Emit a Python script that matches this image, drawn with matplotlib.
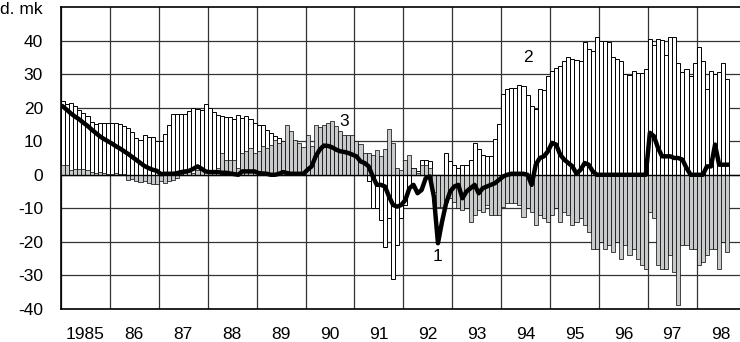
import matplotlib.pyplot as plt
import numpy as np

plt.rcParams['font.family'] = ['Liberation Sans', 'DejaVu Sans']

# monthly data, Jan 1985 - Aug 1998
series2 = [  # white bars
    21.9, 21.2, 21.3, 20.6, 19.4, 18.4, 17.6, 15.8, 15.2, 15.4, 15.4, 15.4,
    15.4, 15.4, 15.0, 14.4, 13.8, 12.8, 11.1, 10.4, 12.0, 11.2, 11.2, 10.1,
    10.0, 12.3, 14.7, 18.0, 18.0, 18.0, 18.0, 19.0, 19.8, 19.5, 19.2, 21.0,
    20.0, 18.8, 17.8, 17.5, 17.3, 17.3, 16.5, 17.8, 17.0, 17.4, 16.6, 15.5,
    14.7, 14.7, 13.4, 12.4, 11.6, 11.0, 8.0, 9.0, 8.0, 7.0, 6.0, 6.0,
    7.0, 6.0, 7.0, 7.0, 7.0, 7.0, 7.0, 6.0, 6.0, 5.0, 5.0, 5.0,
    2.0, 1.0, 0.5, -2.0, -10.0, -10.0, -13.4, -21.4, -13.0, -31.0, -21.0, -13.0,
    -9.0, -4.0, 2.0, 1.0, 4.5, 4.5, 4.0, 0.0, -3.0, -2.0, 6.5, 4.0,
    3.0, 2.0, 3.0, 3.0, 4.5, 9.6, 7.7, 6.0, 5.5, 5.5, 10.6, 15.0,
    24.0, 25.5, 26.0, 25.8, 26.9, 26.4, 23.8, 20.4, 19.6, 25.7, 25.4, 29.3,
    31.0, 31.8, 32.5, 33.8, 35.1, 34.6, 34.2, 33.8, 39.5, 37.5, 36.8, 41.1,
    39.8, 39.8, 39.5, 35.1, 34.6, 33.8, 29.9, 29.6, 30.8, 30.3, 30.3, 31.5,
    40.5, 38.8, 40.5, 40.1, 35.8, 41.0, 41.0, 33.3, 30.5, 31.5, 29.4, 33.3,
    38.0, 33.8, 25.6, 31.0, 30.1, 30.5, 33.3, 28.6,
]
series3 = [  # grey bars
    2.8, 2.8, 1.5, 1.7, 1.7, 1.7, 1.5, 0.8, 0.5, 0.8, 0.5, 0.3,
    0.3, 0.5, 0.3, 0.2, -1.5, -1.2, -2.0, -2.2, -1.8, -2.5, -2.7, -2.6,
    -2.0, -2.4, -1.8, -1.5, -1.0, 0.3, 0.5, 1.0, 0.5, 1.5, 2.0, 1.0,
    0.5, 1.0, 2.0, 6.5, 4.5, 4.5, 4.5, 2.0, 6.5, 7.0, 8.0, 6.5,
    7.0, 8.5, 8.0, 9.0, 10.5, 9.5, 10.0, 14.8, 13.0, 10.4, 9.5, 8.4,
    12.0, 8.5, 14.9, 14.3, 14.9, 15.4, 16.1, 14.5, 13.0, 12.0, 12.0, 12.0,
    10.0, 9.3, 6.5, 6.5, 6.0, 7.5, 5.7, 7.7, 13.6, 9.5, 2.0, 1.5,
    4.5, 5.8, 2.0, 0.5, 3.0, 3.0, 2.0, -5.0, -9.5, -9.5, -8.0, -7.0,
    -8.0, -10.0, -10.5, -10.0, -14.0, -12.0, -10.5, -11.0, -9.0, -12.0, -12.0, -12.0,
    -9.5, -8.5, -8.5, -8.5, -9.0, -12.5, -10.0, -11.0, -15.0, -12.0, -13.0, -14.0,
    -12.0, -10.0, -14.0, -11.0, -12.0, -15.0, -14.0, -13.0, -15.0, -17.0, -22.0, -22.0,
    -20.0, -22.0, -21.0, -23.0, -20.0, -25.0, -21.0, -24.0, -22.0, -25.0, -27.0, -28.0,
    -11.0, -13.0, -27.0, -28.0, -28.0, -24.0, -29.0, -38.9, -21.0, -21.0, -22.0, -22.0,
    -27.0, -26.0, -24.0, -22.0, -22.0, -28.0, -20.0, -23.0,
]
series1 = [  # black line
    20.3, 19.3, 18.2, 17.3, 16.5, 15.5, 14.6, 13.5, 12.5, 11.5, 10.7, 10.0,
    9.3, 8.5, 7.8, 7.0, 6.2, 5.3, 4.4, 3.5, 2.6, 2.0, 1.5, 1.2,
    0.2, 0.3, 0.3, 0.3, 0.5, 0.8, 1.0, 1.2, 1.8, 2.5, 1.8, 1.0,
    0.8, 0.8, 0.8, 0.6, 0.6, 0.4, 0.2, 0.0, 1.0, 1.0, 1.0, 1.0,
    0.5, 0.4, 0.3, 0.0, 0.0, 0.3, 0.8, 0.5, 0.3, 0.3, 0.3, 0.3,
    1.5, 2.5, 5.5, 7.5, 8.7, 8.6, 8.2, 7.5, 7.0, 6.8, 6.5, 6.0,
    5.5, 4.0, 3.5, 2.5, -0.5, -3.0, -3.0, -3.5, -6.5, -9.0, -9.5, -9.0,
    -7.5, -4.0, -3.0, -5.5, -4.5, -1.0, -0.5, -6.5, -20.4, -14.0, -8.5, -5.0,
    -3.5, -3.0, -7.0, -5.0, -4.0, -3.0, -5.5, -4.0, -3.5, -3.0, -2.5, -1.5,
    -0.5, 0.0, 0.3, 0.3, 0.3, 0.3, 0.0, -3.0, 3.0, 5.0, 5.5, 7.0,
    9.5, 9.0, 6.0, 4.5, 3.5, 2.5, 0.3, 1.5, 3.5, 3.0, 1.0, 0.0,
    0.0, 0.0, 0.0, 0.0, 0.0, 0.0, 0.0, 0.0, 0.0, 0.0, 0.0, 0.0,
    12.5, 11.5, 8.0, 5.5, 5.5, 5.5, 5.0, 5.0, 4.5, 2.0, 0.0, 0.0,
    0.0, 0.0, 2.5, 2.5, 9.0, 3.0, 3.0, 3.0,
]
year_labels = ['1985', '86', '87', '88', '89', '90', '91', '92', '93',
               '94', '95', '96', '97', '98']
yticks = [-40, -30, -20, -10, 0, 10, 20, 30, 40]

x = 1985 + (np.arange(len(series1)) + 0.5) / 12

fig = plt.figure(figsize=(7.4, 3.42), dpi=100)
ax = fig.add_axes([61 / 740, 33 / 342, 1 - 61 / 740, 302 / 342])

ax.bar(x, series2, width=1 / 12, color='white', edgecolor='black',
       linewidth=0.7, zorder=2)
ax.bar(x, series3, width=1 / 12, color='#c8cacb', edgecolor='black',
       linewidth=0.5, zorder=3)
ax.plot(x, series1, color='black', linewidth=3.2, solid_joinstyle='round',
        zorder=5)
ax.axhline(0, color='black', linewidth=1.0, zorder=4)

ax.set_xlim(1985, 1998.885)
ax.set_ylim(-40, 50)
ax.set_yticks(yticks)
ax.set_yticklabels([str(v) for v in yticks])
ax.set_xticks(np.arange(1985, 1999))
ax.set_xticklabels([])
ax.set_xticks(np.arange(1985, 1999) + 0.5, minor=True)
ax.set_xticklabels(year_labels, minor=True)
ax.tick_params(axis='both', which='both', length=0, labelsize=12.5)
ax.tick_params(axis='y', pad=13)
ax.tick_params(axis='x', which='minor', pad=13)

ax.grid(True, which='major', color='#333333', linewidth=0.9, zorder=0)
ax.set_axisbelow(True)
for side in ['left', 'bottom', 'top']:
    ax.spines[side].set_linewidth(1.2)
ax.spines['right'].set_visible(False)

ax.text(1992.69, -24.5, '1', fontsize=12.5, ha='center', va='center')
ax.text(1994.55, 35, '2', fontsize=12.5, ha='center', va='center')
ax.text(1990.79, 15.9, '3', fontsize=12.5, ha='center', va='center')
fig.text(43 / 740, 1 - 9 / 342, 'd. mk', fontsize=12.5, ha='right',
         va='center')

fig.savefig('out.png', dpi=100)
